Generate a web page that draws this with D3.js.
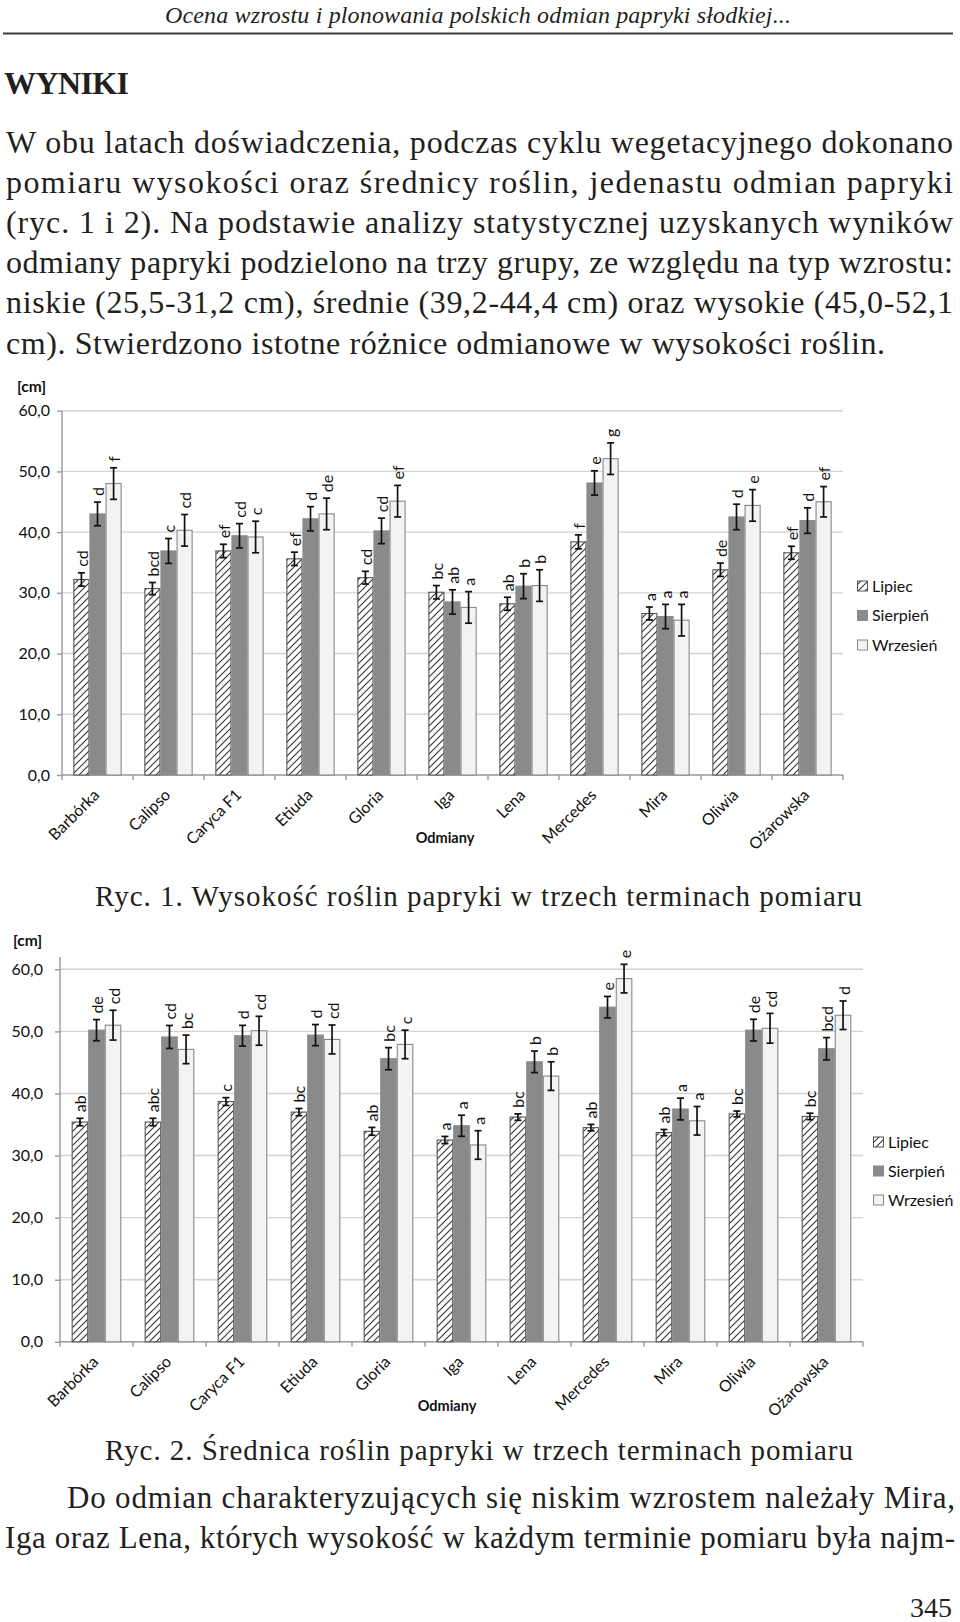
<!DOCTYPE html>
<html><head><meta charset="utf-8">
<script src="https://cdn.jsdelivr.net/npm/d3@7"></script>
<style>body{margin:0;background:#fff} svg{display:block}</style>
</head><body>
<svg id="page" width="960" height="1622"></svg>
<script>
const categories = ["Barbórka","Calipso","Caryca F1","Etiuda","Gloria","Iga","Lena","Mercedes","Mira","Oliwia","Ożarowska"];
const seriesNames = ["Lipiec","Sierpień","Wrzesień"];
const yTicks = [0,10,20,30,40,50,60];

// Ryc. 1 – wysokość [cm]
const h_lipiec   = [32.2,30.7,36.9,35.6,32.5,30.1,28.2,38.4,26.6,33.8,36.6];
const h_sierpien = [43.0,36.9,39.4,42.2,40.2,28.5,31.1,48.1,26.1,42.5,41.9];
const h_wrzesien = [48.0,40.3,39.2,43.0,45.1,27.6,31.2,52.1,25.5,44.4,45.0];
const h_err_lipiec   = [1.1,1.0,1.1,1.1,1.05,1.1,1.07,1.15,1.07,1.1,1.07];
const h_err_sierpien = [1.95,2.05,2.0,2.0,2.1,2.0,2.05,2.0,2.0,2.1,2.1];
const h_err_wrzesien = [2.6,2.6,2.6,2.6,2.6,2.6,2.6,2.6,2.6,2.6,2.5];
const h_let_lipiec   = ["cd","bcd","ef","ef","cd","bc","ab","f","a","de","ef"];
const h_let_sierpien = ["d","c","cd","d","cd","ab","b","e","a","d","d"];
const h_let_wrzesien = ["f","cd","c","de","ef","a","b","g","a","e","ef"];

// Ryc. 2 – średnica [cm]
const d_lipiec   = [35.4,35.4,38.7,37.0,33.9,32.5,36.2,34.5,33.7,36.7,36.3];
const d_sierpien = [50.2,49.1,49.3,49.4,45.6,34.8,45.1,53.9,37.5,50.2,47.2];
const d_wrzesien = [51.0,47.1,50.1,48.7,47.9,31.7,42.8,58.5,35.6,50.5,52.6];
const d_err_lipiec   = [0.6,0.6,0.63,0.58,0.63,0.58,0.52,0.52,0.5,0.47,0.52];
const d_err_sierpien = [1.7,1.85,1.67,1.7,1.78,1.7,1.73,1.73,1.75,1.75,1.8];
const d_err_wrzesien = [2.4,2.3,2.33,2.33,2.3,2.3,2.3,2.3,2.3,2.4,2.3];
const d_let_lipiec   = ["ab","abc","c","bc","ab","a","bc","ab","ab","bc","bc"];
const d_let_sierpien = ["de","cd","d","d","bc","a","b","e","a","de","bcd"];
const d_let_wrzesien = ["cd","bc","cd","cd","c","a","b","e","a","cd","d"];

// page texts
const headerText = "Ocena wzrostu i plonowania polskich odmian papryki słodkiej...";
const sectionTitle = "WYNIKI";
const paraLines = [
 "W obu latach doświadczenia, podczas cyklu wegetacyjnego dokonano",
 "pomiaru wysokości oraz średnicy roślin, jedenastu odmian papryki",
 "(ryc. 1 i 2). Na podstawie analizy statystycznej uzyskanych wyników",
 "odmiany papryki podzielono na trzy grupy, ze względu na typ wzrostu:",
 "niskie (25,5-31,2 cm), średnie (39,2-44,4 cm) oraz wysokie (45,0-52,1",
 "cm). Stwierdzono istotne różnice odmianowe w wysokości roślin."
];
const caption1 = "Ryc. 1. Wysokość roślin papryki w trzech terminach pomiaru";
const caption2 = "Ryc. 2. Średnica roślin papryki w trzech terminach pomiaru";
const bottomLines = [
 "Do odmian charakteryzujących się niskim wzrostem należały Mira,",
 "Iga oraz Lena, których wysokość w każdym terminie pomiaru była najm-"
];
const pageNumber = "345";

const svg = d3.select("#page");
const defs = svg.append("defs");
const pat = defs.append("pattern").attr("id","hatch").attr("patternUnits","userSpaceOnUse")
  .attr("width",7).attr("height",7);
pat.append("rect").attr("width",7).attr("height",7).attr("fill","#fff");
pat.append("path").attr("d","M0,7 L7,0 M-1,1 L1,-1 M6,8 L8,6").attr("stroke","#333").attr("stroke-width",1.1);

const TXT = "#231f20";
const serif = "'Liberation Serif', serif";
const sans = "Lato, 'Open Sans', sans-serif";

function line(txt, x, y, size, len, opts={}) {
  const t = svg.append("text").attr("x",x).attr("y",y).text(txt)
    .attr("font-family",serif).attr("font-size",size).attr("fill",TXT);
  if (len) t.attr("textLength",len).attr("lengthAdjust","spacing");
  if (opts.italic) t.attr("font-style","italic");
  if (opts.bold) t.attr("font-weight","bold");
  if (opts.anchor) t.attr("text-anchor",opts.anchor);
  return t;
}

// header
line(headerText, 165, 23, 24, 626, {italic:true});
svg.append("line").attr("x1",3).attr("x2",953).attr("y1",33.5).attr("y2",33.5).attr("stroke","#3a3a3a").attr("stroke-width",2);
line(sectionTitle, 4, 94, 32, 125, {bold:true});
paraLines.forEach((s,i)=>{
  line(s, 6, 152.5 + 40.2*i, 32, i < paraLines.length-1 ? 947 : 879);
});
line(caption1, 95, 906, 29, 767);
line(caption2, 105, 1460, 29, 748);
line(bottomLines[0], 67, 1508, 31, 888);
line(bottomLines[1], 5, 1548, 31, 950);
line(pageNumber, 952, 1617, 28, null, {anchor:"end"});

function drawChart(cfg) {
  const g = svg.append("g");
  const y = d3.scaleLinear().domain([0,60]).range([cfg.y0, cfg.y60]);
  const x = d3.scaleBand().domain(categories).range([cfg.x0, cfg.x1]).paddingInner(0.32).paddingOuter(0.16);
  const xs = d3.scaleBand().domain(seriesNames).range([0, x.bandwidth()]);

  // gridlines
  g.selectAll(".grid").data(yTicks.filter(t=>t>0)).join("line")
    .attr("x1",cfg.x0).attr("x2",cfg.x1).attr("y1",d=>y(d)).attr("y2",d=>y(d))
    .attr("stroke","#d3d3d3").attr("stroke-width",1.4);

  // y axis
  const ya = g.append("g").attr("transform",`translate(${cfg.x0},0)`)
    .call(d3.axisLeft(y).tickValues(yTicks).tickSize(5).tickPadding(cfg.tickPad)
      .tickFormat(d=>d3.format(".1f")(d).replace(".",",")));
  ya.select(".domain").remove();
  ya.selectAll(".tick line").attr("stroke","#999").attr("stroke-width",1.4);
  ya.selectAll("text").attr("font-family",sans).attr("font-size",16).attr("fill","#111");
  g.append("line").attr("x1",cfg.x0).attr("x2",cfg.x0).attr("y1",y(cfg.axisTop)).attr("y2",y(0))
    .attr("stroke","#999").attr("stroke-width",1.4);

  // x axis
  g.append("line").attr("x1",cfg.x0).attr("x2",cfg.x1).attr("y1",y(0)).attr("y2",y(0))
    .attr("stroke","#999").attr("stroke-width",1.4);
  g.selectAll(".xt").data(d3.range(categories.length+1)).join("line")
    .attr("x1",i=>cfg.x0 + i*x.step()).attr("x2",i=>cfg.x0 + i*x.step())
    .attr("y1",y(0)).attr("y2",y(0)+5).attr("stroke","#999").attr("stroke-width",1.4);

  const series = [
    {name:"Lipiec", vals:cfg.s[0], err:cfg.e[0], lets:cfg.l[0], fill:"url(#hatch)", stroke:"#555"},
    {name:"Sierpień", vals:cfg.s[1], err:cfg.e[1], lets:cfg.l[1], fill:"#8a8a8a", stroke:"#8a8a8a"},
    {name:"Wrzesień", vals:cfg.s[2], err:cfg.e[2], lets:cfg.l[2], fill:"#f3f3f3", stroke:"#888"}
  ];
  series.forEach(s=>{
    const data = categories.map((c,i)=>({c, v:s.vals[i], e:s.err[i], l:s.lets[i]}));
    const gx = d => x(d.c) + xs(s.name);
    const cx = d => gx(d) + xs.bandwidth()/2;
    g.append("g").selectAll("rect").data(data).join("rect")
      .attr("x",d=>gx(d)+0.5).attr("width",xs.bandwidth()-1)
      .attr("y",d=>y(d.v)).attr("height",d=>y(0)-y(d.v))
      .attr("fill",s.fill).attr("stroke",s.stroke).attr("stroke-width",1.1);
    const eb = g.append("g").attr("stroke","#111").attr("stroke-width",1.7);
    eb.selectAll(".v").data(data).join("line")
      .attr("x1",cx).attr("x2",cx).attr("y1",d=>y(d.v-d.e)).attr("y2",d=>y(d.v+d.e));
    eb.selectAll(".t").data(data).join("line")
      .attr("x1",d=>cx(d)-3.5).attr("x2",d=>cx(d)+3.5).attr("y1",d=>y(d.v+d.e)).attr("y2",d=>y(d.v+d.e));
    eb.selectAll(".b").data(data).join("line")
      .attr("x1",d=>cx(d)-3.5).attr("x2",d=>cx(d)+3.5).attr("y1",d=>y(d.v-d.e)).attr("y2",d=>y(d.v-d.e));
    g.append("g").selectAll("text").data(data).join("text")
      .attr("transform",d=>`translate(${cx(d)+6.5},${y(d.v+d.e)-6}) rotate(-90)`)
      .attr("font-family",sans).attr("font-size",16).attr("fill","#111")
      .text(d=>d.l);
  });

  // category labels
  g.append("g").selectAll("text").data(categories).join("text")
    .attr("transform",d=>`translate(${x(d)+x.bandwidth()/2+3},${y(0)+21}) rotate(-45)`)
    .attr("text-anchor","end").attr("font-family",sans).attr("font-size",16).attr("fill","#111")
    .text(d=>d);

  g.append("text").attr("x",cfg.odmX).attr("y",cfg.odmY).attr("text-anchor","middle")
    .attr("font-family",sans).attr("font-weight","bold").attr("font-size",14.5).attr("fill","#111").text("Odmiany");
  g.append("text").attr("x",cfg.cmX).attr("y",cfg.cmY)
    .attr("font-family",sans).attr("font-weight","bold").attr("font-size",15.5).attr("fill","#111").text("[cm]");

  // legend
  const lg = g.append("g");
  series.forEach((s,i)=>{
    const ry = cfg.legY + i*cfg.legStep;
    lg.append("rect").attr("x",cfg.legX+0.5).attr("y",ry-5).attr("width",10).attr("height",10)
      .attr("fill",s.fill).attr("stroke",s.stroke).attr("stroke-width",1);
    lg.append("text").attr("x",cfg.legX+15).attr("y",ry).attr("dy","0.35em")
      .attr("font-family",sans).attr("font-size",16).attr("fill","#111").text(s.name);
  });
}

drawChart({x0:62, x1:843, y0:775, y60:410.7, axisTop:60, tickPad:7,
  s:[h_lipiec,h_sierpien,h_wrzesien], e:[h_err_lipiec,h_err_sierpien,h_err_wrzesien],
  l:[h_let_lipiec,h_let_sierpien,h_let_wrzesien],
  odmX:445, odmY:843, cmX:17, cmY:392, legX:857, legY:586, legStep:29.5});

drawChart({x0:60, x1:863, y0:1341.8, y60:969.3, axisTop:62, tickPad:12,
  s:[d_lipiec,d_sierpien,d_wrzesien], e:[d_err_lipiec,d_err_sierpien,d_err_wrzesien],
  l:[d_let_lipiec,d_let_sierpien,d_let_wrzesien],
  odmX:447, odmY:1411, cmX:13, cmY:946, legX:873, legY:1142, legStep:29});
</script>
</body></html>
